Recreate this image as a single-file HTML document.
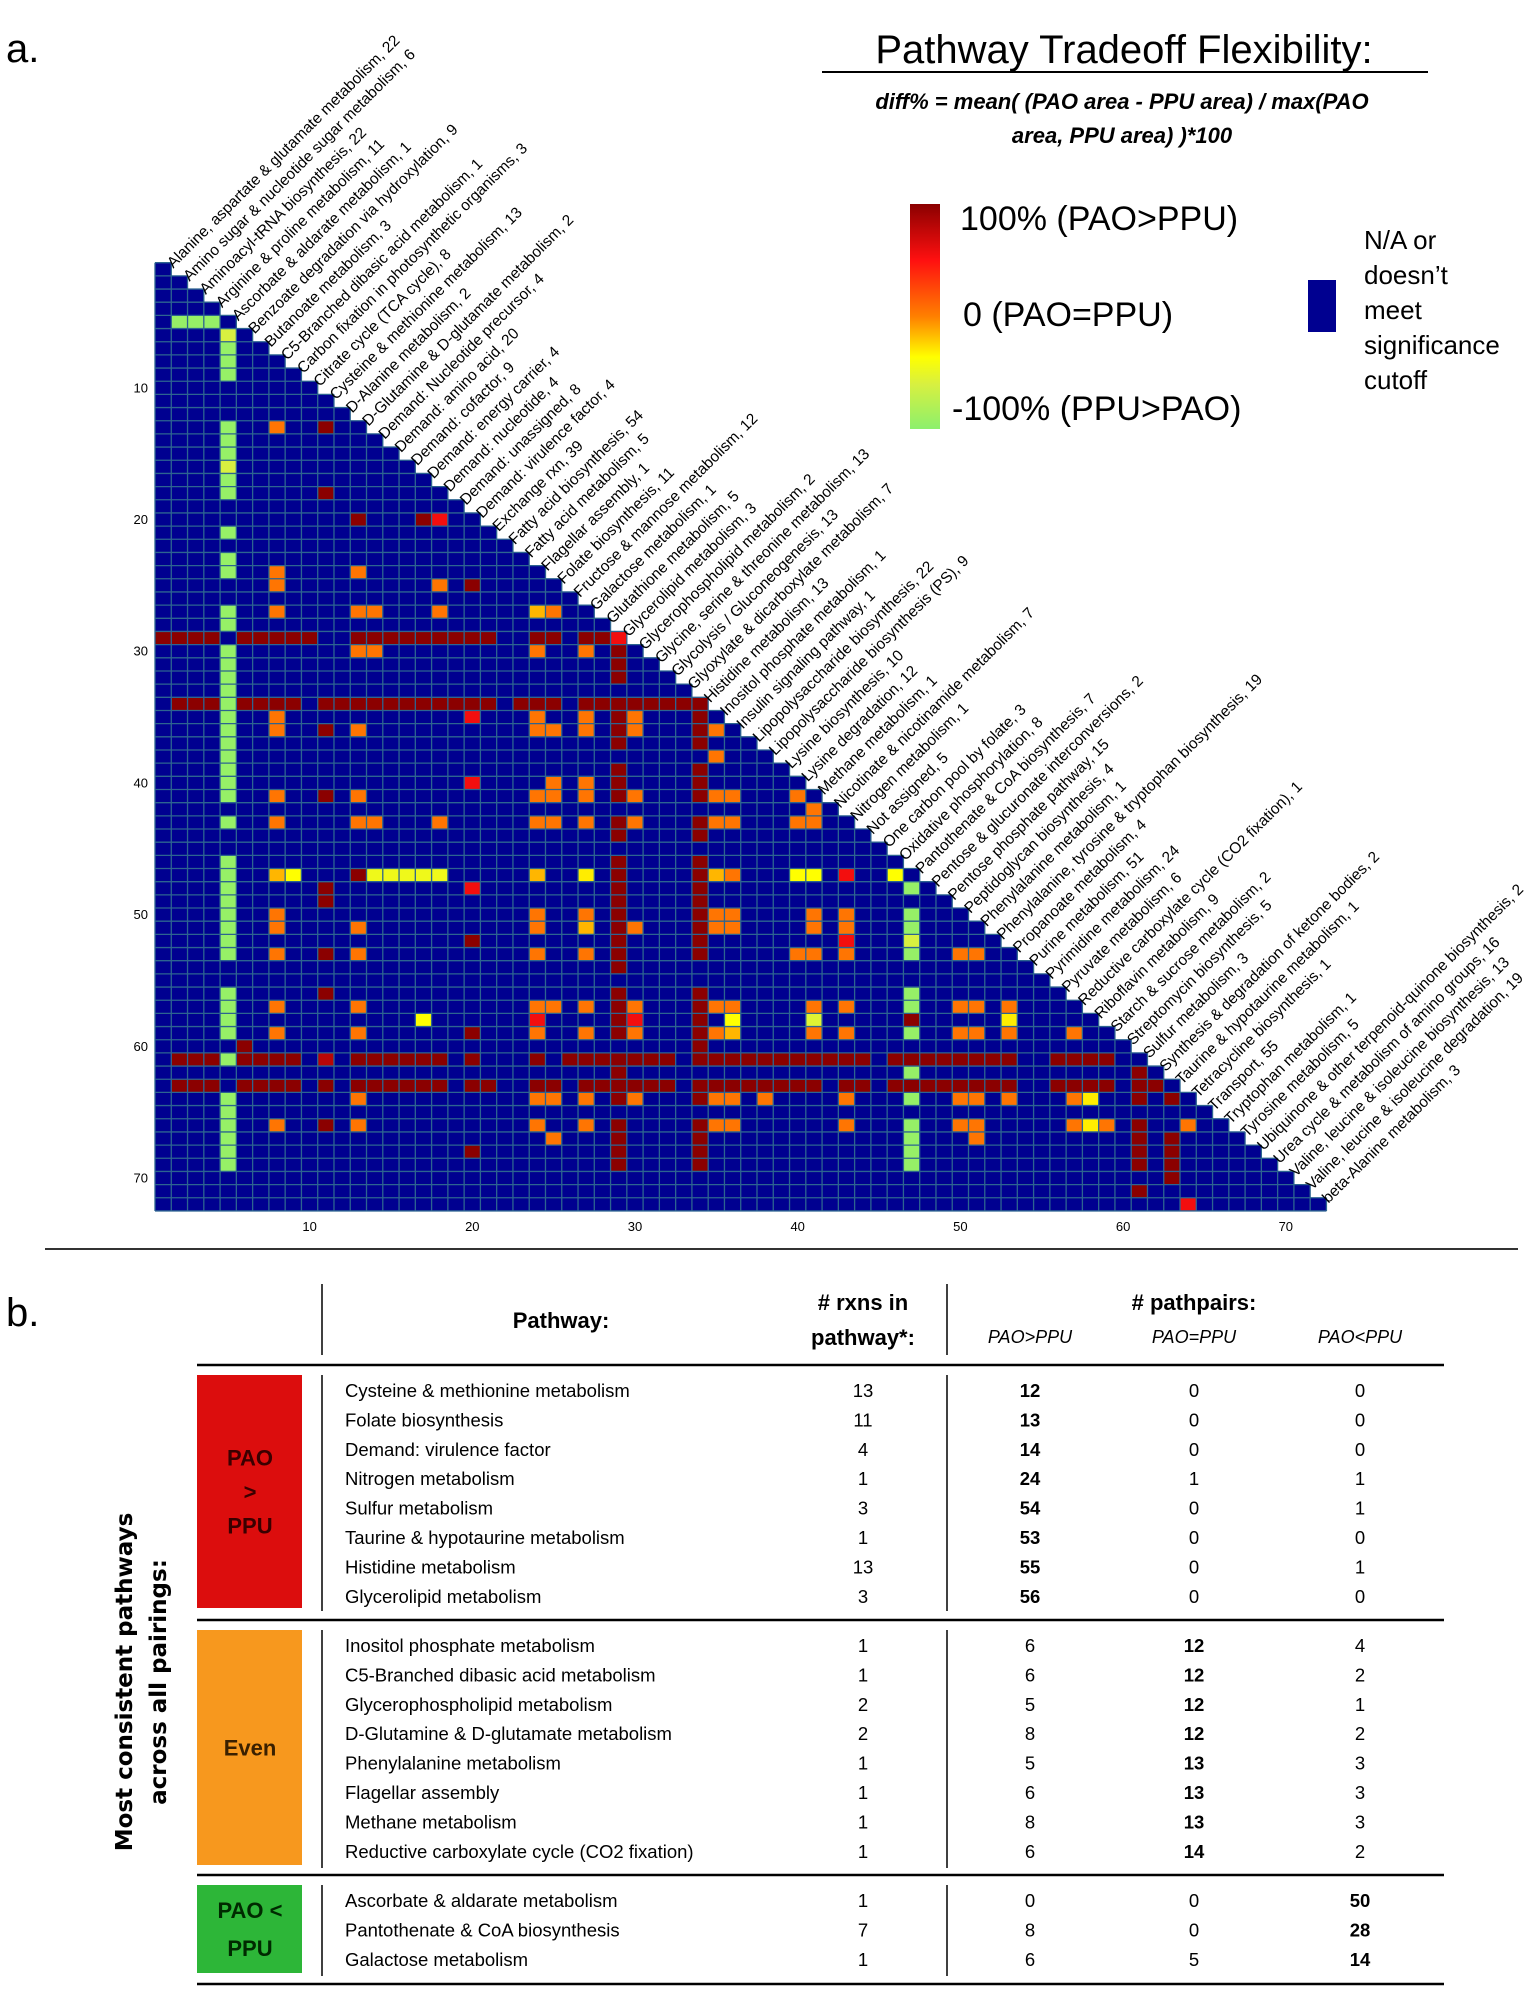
<!DOCTYPE html>
<html><head><meta charset="utf-8"><style>
html,body{margin:0;padding:0;background:#fff;}
svg{display:block;font-family:"Liberation Sans",Arial,sans-serif;}
</style></head><body>
<svg id="fig" width="1526" height="2000" viewBox="0 0 1526 2000" xmlns="http://www.w3.org/2000/svg">
<defs>
<linearGradient id="cbar" x1="0" y1="0" x2="0" y2="1">
<stop offset="0" stop-color="#8b0000"/><stop offset="0.25" stop-color="#ff1010"/><stop offset="0.5" stop-color="#ff8000"/><stop offset="0.68" stop-color="#ffff00"/><stop offset="0.8" stop-color="#d8f040"/><stop offset="1" stop-color="#8cf06c"/>
</linearGradient>
</defs>
<text x="6" y="62" font-size="40">a.</text>
<text x="1124" y="63" font-size="40" text-anchor="middle">Pathway Tradeoff Flexibility:</text>
<line x1="822" y1="72" x2="1428" y2="72" stroke="#000" stroke-width="2"/>
<text x="1122" y="109" font-size="22" font-weight="bold" font-style="italic" text-anchor="middle">diff% =  mean( (PAO area - PPU area) / max(PAO</text>
<text x="1122" y="143" font-size="22" font-weight="bold" font-style="italic" text-anchor="middle">area, PPU area) )*100</text>
<rect x="910" y="204" width="30" height="225" fill="url(#cbar)"/>
<text x="960" y="230" font-size="34">100% (PAO&gt;PPU)</text>
<text x="963" y="326" font-size="34">0 (PAO=PPU)</text>
<text x="952" y="420" font-size="34">-100% (PPU&gt;PAO)</text>
<rect x="1308" y="280" width="28" height="52" fill="#000090"/>
<g font-size="26">
<text x="1364" y="249">N/A or</text><text x="1364" y="284">doesn’t</text><text x="1364" y="319">meet</text><text x="1364" y="354">significance</text><text x="1364" y="389">cutoff</text>
</g>
<g id="heat"></g>
<line x1="45" y1="1249" x2="1518" y2="1249" stroke="#333" stroke-width="2"/>
<g id="table"></g>
</svg>
<script>
// heatmap data
const pathwayLabels = ["Alanine, aspartate & glutamate metabolism, 22","Amino sugar & nucleotide sugar metabolism, 6","Aminoacyl-tRNA biosynthesis, 22","Arginine & proline metabolism, 11","Ascorbate & aldarate metabolism, 1","Benzoate degradation via hydroxylation, 9","Butanoate metabolism, 3","C5-Branched dibasic acid metabolism, 1","Carbon fixation in photosynthetic organisms, 3","Citrate cycle (TCA cycle), 8","Cysteine & methionine metabolism, 13","D-Alanine metabolism, 2","D-Glutamine & D-glutamate metabolism, 2","Demand: Nucleotide precursor, 4","Demand: amino acid, 20","Demand: cofactor, 9","Demand: energy carrier, 4","Demand: nucleotide, 4","Demand: unassigned, 8","Demand: virulence factor, 4","Exchange rxn, 39","Fatty acid biosynthesis, 54","Fatty acid metabolism, 5","Flagellar assembly, 1","Folate biosynthesis, 11","Fructose & mannose metabolism, 12","Galactose metabolism, 1","Glutathione metabolism, 5","Glycerolipid metabolism, 3","Glycerophospholipid metabolism, 2","Glycine, serine & threonine metabolism, 13","Glycolysis / Gluconeogenesis, 13","Glyoxylate & dicarboxylate metabolism, 7","Histidine metabolism, 13","Inositol phosphate metabolism, 1","Insulin signaling pathway, 1","Lipopolysaccharide biosynthesis, 22","Lipopolysaccharide biosynthesis (PS), 9","Lysine biosynthesis, 10","Lysine degradation, 12","Methane metabolism, 1","Nicotinate & nicotinamide metabolism, 7","Nitrogen metabolism, 1","Not assigned, 5","One carbon pool by folate, 3","Oxidative phosphorylation, 8","Pantothenate & CoA biosynthesis, 7","Pentose & glucuronate interconversions, 2","Pentose phosphate pathway, 15","Peptidoglycan biosynthesis, 4","Phenylalanine metabolism, 1","Phenylalanine, tyrosine & tryptophan biosynthesis, 19","Propanoate metabolism, 4","Purine metabolism, 51","Pyrimidine metabolism, 24","Pyruvate metabolism, 6","Reductive carboxylate cycle (CO2 fixation), 1","Riboflavin metabolism, 9","Starch & sucrose metabolism, 2","Streptomycin biosynthesis, 5","Sulfur metabolism, 3","Synthesis & degradation of ketone bodies, 2","Taurine & hypotaurine metabolism, 1","Tetracycline biosynthesis, 1","Transport, 55","Tryptophan metabolism, 1","Tyrosine metabolism, 5","Ubiquinone & other terpenoid-quinone biosynthesis, 2","Urea cycle & metabolism of amino groups, 16","Valine, leucine & isoleucine biosynthesis, 13","Valine, leucine & isoleucine degradation, 19","beta-Alanine metabolism, 3"];
const axisTicks = [10,20,30,40,50,60,70];
// spans: [rowStart,rowEnd,colStart,colEnd,diff%]
const spanCells = [
[5,5,2,4,-95],
[6,6,5,5,-60],[7,9,5,5,-95],[13,15,5,5,-95],[16,16,5,5,-60],[17,18,5,5,-95],[21,21,5,5,-95],[23,24,5,5,-95],[27,28,5,5,-95],[30,41,5,5,-95],[43,43,5,5,-95],[46,53,5,5,-95],[56,59,5,5,-95],[61,61,5,5,-95],[64,69,5,5,-95],
[29,29,29,29,55],[30,32,29,29,100],[34,37,29,29,100],[39,41,29,29,100],[43,44,29,29,100],[46,54,29,29,100],[56,59,29,29,100],[61,64,29,29,100],[66,69,29,29,100],
[34,37,34,34,100],[39,41,34,34,100],[43,44,34,34,100],[46,53,34,34,100],[56,61,34,34,100],[63,64,34,34,100],[66,69,34,34,100],
[48,48,47,47,-95],[50,51,47,47,-95],[52,52,47,47,-60],[53,53,47,47,-95],[56,57,47,47,-95],[58,58,47,47,100],[59,59,47,47,-95],[62,62,47,47,-95],[64,64,47,47,-95],[66,69,47,47,-95],
[62,64,61,61,100],[66,69,61,61,100],[71,71,61,61,100],
[64,64,63,63,100],[67,70,63,63,100],
[29,29,1,4,100],[29,29,6,10,100],[29,29,13,21,100],[29,29,24,25,100],[29,29,27,28,100],
[34,34,2,4,100],[34,34,6,9,100],[34,34,11,21,100],[34,34,23,25,100],[34,34,27,33,100],
[60,60,6,6,100],
[61,61,2,4,100],[61,61,6,9,100],[61,61,11,11,80],[61,61,13,18,100],[61,61,20,20,100],[61,61,24,24,100],[61,61,26,32,100],[61,61,35,44,100],[61,61,46,53,100],[61,61,56,59,100],
[63,63,2,4,100],[63,63,6,9,100],[63,63,11,11,100],[63,63,13,18,100],[63,63,20,21,100],[63,63,24,25,100],[63,63,27,28,100],[63,63,30,32,100],[63,63,35,41,100],[63,63,43,44,100],[63,63,46,53,100],[63,63,56,59,100],[63,63,62,62,100]
];
// singles: [row,col,diff%]
const singleCells = [
[13,8,5],[13,11,100],[18,11,100],[20,13,100],[20,17,100],[20,18,55],
[24,8,5],[24,13,5],[25,8,5],[25,18,5],[25,20,100],
[27,8,5],[27,13,5],[27,14,5],[27,18,5],[27,24,-15],[27,25,5],
[30,13,5],[30,14,5],[30,24,5],[30,27,5],
[35,8,5],[35,20,55],[35,24,5],[35,27,5],[35,30,5],
[36,8,5],[36,11,100],[36,13,5],[36,24,5],[36,25,5],[36,27,5],[36,30,5],[36,35,5],
[38,35,5],[40,20,55],[40,25,5],[40,27,5],
[41,8,5],[41,11,100],[41,13,5],[41,24,5],[41,25,5],[41,27,5],[41,30,5],[41,35,5],[41,36,5],[41,40,5],
[42,41,5],
[43,8,5],[43,13,5],[43,14,5],[43,18,5],[43,24,5],[43,25,5],[43,27,5],[43,30,5],[43,35,5],[43,36,5],[43,40,5],[43,41,5],
[47,8,-15],[47,9,-35],[47,13,100],[47,14,-45],[47,15,-45],[47,16,-45],[47,17,-45],[47,18,-45],[47,24,-15],[47,27,-30],[47,35,-15],[47,36,5],[47,40,-35],[47,41,-35],[47,43,55],[47,46,-35],
[48,11,100],[48,20,55],[49,11,100],
[50,8,5],[50,24,5],[50,27,5],[50,35,5],[50,36,5],[50,41,5],[50,43,5],
[51,8,5],[51,13,5],[51,24,5],[51,27,-15],[51,30,5],[51,35,5],[51,36,5],[51,41,5],[51,43,5],
[52,20,100],[52,43,55],
[53,8,5],[53,11,100],[53,13,5],[53,24,5],[53,27,5],[53,40,5],[53,41,5],[53,43,5],[53,50,5],[53,51,5],
[56,11,100],
[57,8,5],[57,13,5],[57,24,5],[57,25,5],[57,27,5],[57,30,5],[57,35,5],[57,36,5],[57,41,5],[57,43,5],[57,50,5],[57,51,5],[57,53,5],
[58,17,-35],[58,24,55],[58,30,55],[58,36,-35],[58,41,-55],[58,53,-30],
[59,8,5],[59,13,5],[59,20,100],[59,24,5],[59,27,5],[59,30,5],[59,35,5],[59,36,-15],[59,41,5],[59,43,5],[59,50,5],[59,51,5],[59,53,5],[59,57,5],
[64,13,5],[64,24,5],[64,25,5],[64,27,5],[64,30,5],[64,35,5],[64,36,5],[64,38,5],[64,43,5],[64,50,5],[64,51,5],[64,53,5],[64,57,5],[64,58,-30],
[66,8,5],[66,11,100],[66,13,5],[66,24,5],[66,27,5],[66,35,5],[66,36,5],[66,43,5],[66,50,5],[66,51,5],[66,57,5],[66,58,-30],[66,59,5],[66,64,5],
[67,25,5],[67,51,5],[68,20,100],[72,64,55]
];
const colorStops = [-100,-60,-35,0,50,100];
const colorHex = ["#8cf06c","#d8f040","#ffff00","#ff8000","#ff1010","#8b0000"];

const NS="http://www.w3.org/2000/svg";
const N=pathwayLabels.length, L0=155, T0=262.7, CW=16.27, RH=13.17;
const xOf=c=>L0+(c-1)*CW, yOf=r=>T0+(r-1)*RH;
function hex(h){return [1,3,5].map(i=>parseInt(h.substr(i,2),16));}
function colorOf(v){
  v=Math.max(-100,Math.min(100,v));
  for(let i=0;i<colorStops.length-1;i++){
    if(v<=colorStops[i+1]){const t=(v-colorStops[i])/(colorStops[i+1]-colorStops[i]);
      const a=hex(colorHex[i]),b=hex(colorHex[i+1]);
      return "rgb("+a.map((x,k)=>Math.round(x+(b[k]-x)*t)).join(",")+")";}
  }
  return colorHex[colorHex.length-1];
}
function mk(tag,attrs,parent){const e=document.createElementNS(NS,tag);for(const k in attrs)e.setAttribute(k,attrs[k]);parent.appendChild(e);return e;}
const heat=document.getElementById('heat');
let pts=[[L0,T0]];
for(let k=1;k<=N;k++){pts.push([L0+k*CW,T0+(k-1)*RH]);pts.push([L0+k*CW,T0+k*RH]);}
pts.push([L0,T0+N*RH]);
const bg=mk('polygon',{points:pts.map(p=>p.join(',')).join(' '),fill:'#000090'},heat);


function cell(r,c,v){
  const e=mk('rect',{x:xOf(c).toFixed(2),y:yOf(r).toFixed(2),width:CW.toFixed(2),height:RH.toFixed(2),fill:colorOf(v)},heat);
  
  
}
spanCells.forEach(s=>{for(let r=s[0];r<=s[1];r++)for(let c=s[2];c<=s[3];c++)if(c<=r)cell(r,c,s[4]);});
singleCells.forEach(s=>{if(s[1]<=s[0])cell(s[0],s[1],s[2]);});
let d="";
for(let k=0;k<=N;k++){const y=T0+k*RH;const xe=L0+Math.min(N,k+1)*CW;d+="M"+L0+" "+y.toFixed(2)+"H"+xe.toFixed(2);}
for(let k=0;k<=N;k++){const x=L0+k*CW;const ys=T0+Math.max(0,k-1)*RH;d+="M"+x.toFixed(2)+" "+ys.toFixed(2)+"V"+(T0+N*RH).toFixed(2);}
const grid=mk('path',{d:d,stroke:'#2d6490',"stroke-width":1.3,fill:'none'},heat);


axisTicks.forEach(t=>{
  const xl=mk('text',{x:(xOf(t)+CW/2).toFixed(1),y:(T0+N*RH+20).toFixed(1),"font-size":13,"text-anchor":"middle"},heat);
  xl.textContent=t;
  
  
  const yl=mk('text',{x:148,y:(yOf(t)+RH/2+4.5).toFixed(1),"font-size":13,"text-anchor":"end"},heat);
  yl.textContent=t;
  
  
});
pathwayLabels.forEach((lab,i)=>{
  const c=i+1, x=L0+c*CW+2, y=T0+(c-1)*RH+6;
  const t=mk('text',{x:0,y:0,transform:"translate("+x.toFixed(1)+","+y.toFixed(1)+") rotate(-45)","font-size":15.5,"font-family":"'Liberation Sans Narrow','Liberation Sans',sans-serif"},heat);
  t.textContent=lab;
  
  
});

const tbl=document.getElementById('table');
function txt(x,y,s,attrs){const t=mk('text',Object.assign({x:x,y:y},attrs||{}),tbl);t.textContent=s;return t;}
let e;
e=txt(6,1326,"b.",{"font-size":40});
e=txt(561,1328,"Pathway:",{"font-size":22,"font-weight":"bold","text-anchor":"middle"});
e=txt(863,1310,"# rxns in",{"font-size":22,"font-weight":"bold","text-anchor":"middle"});
e=txt(863,1345,"pathway*:",{"font-size":22,"font-weight":"bold","text-anchor":"middle"});
e=txt(1194,1310,"# pathpairs:",{"font-size":22,"font-weight":"bold","text-anchor":"middle"});
[["PAO>PPU",1030],["PAO=PPU",1194],["PAO<PPU",1360]].forEach(h=>{e=txt(h[1],1343,h[0],{"font-size":18,"font-style":"italic","text-anchor":"middle"});});
function ln(x1,y1,x2,y2,w){const l=mk('line',{x1:x1,y1:y1,x2:x2,y2:y2,stroke:'#000',"stroke-width":w},tbl);}
ln(322,1284,322,1355,1.5);ln(947,1284,947,1355,1.5);
ln(197,1365,1444,1365,2.5);ln(197,1620,1444,1620,2.5);ln(197,1875,1444,1875,2.5);ln(197,1984,1444,1984,2.5);
const sections=[
 {y0:1375,y1:1608,color:"#dc0d0d",label:["PAO",">","PPU"],tc:"#3a0000",bold:0,rows:[
  ["Cysteine & methionine metabolism",13,12,0,0],["Folate biosynthesis",11,13,0,0],["Demand: virulence factor",4,14,0,0],["Nitrogen metabolism",1,24,1,1],["Sulfur metabolism",3,54,0,1],["Taurine & hypotaurine metabolism",1,53,0,0],["Histidine metabolism",13,55,0,1],["Glycerolipid metabolism",3,56,0,0]]},
 {y0:1630,y1:1865,color:"#f7981e",label:["Even"],tc:"#3a2000",bold:1,rows:[
  ["Inositol phosphate metabolism",1,6,12,4],["C5-Branched dibasic acid metabolism",1,6,12,2],["Glycerophospholipid metabolism",2,5,12,1],["D-Glutamine & D-glutamate metabolism",2,8,12,2],["Phenylalanine metabolism",1,5,13,3],["Flagellar assembly",1,6,13,3],["Methane metabolism",1,8,13,3],["Reductive carboxylate cycle (CO2 fixation)",1,6,14,2]]},
 {y0:1885,y1:1973,color:"#2db638",label:["PAO <","PPU"],tc:"#002a00",bold:2,rows:[
  ["Ascorbate & aldarate metabolism",1,0,0,50],["Pantothenate & CoA biosynthesis",7,8,0,28],["Galactose metabolism",1,6,5,14]]}
];
sections.forEach(s=>{
  const b=mk('rect',{x:197,y:s.y0,width:105,height:s.y1-s.y0,fill:s.color},tbl);
  
  
  ln(322,s.y0,322,s.y1+3,1.5);ln(947,s.y0,947,s.y1+3,1.5);
  const mid=(s.y0+s.y1)/2, n=s.label.length, sp=n===3?34:38;
  s.label.forEach((t,i)=>{const el=txt(250,mid+(i-(n-1)/2)*sp+8,t,{"font-size":22,"font-weight":"bold","text-anchor":"middle",fill:s.tc});});
  s.rows.forEach((r,i)=>{
    const y=s.y0+22+i*29.4;
    let el=txt(345,y,r[0],{"font-size":18.5});
    el=txt(863,y,String(r[1]),{"font-size":18.5,"text-anchor":"middle"});
    [1030,1194,1360].forEach((x,k)=>{el=txt(x,y,String(r[2+k]),{"font-size":18.5,"text-anchor":"middle","font-weight":k===s.bold?"bold":"normal"});});
  });
});
e=txt(0,0,"Most consistent pathways",{"font-size":23,"font-weight":"bold","font-family":"'DejaVu Sans',sans-serif","text-anchor":"middle",transform:"translate(132,1682) rotate(-90)"});
e=txt(0,0,"across all pairings:",{"font-size":23,"font-weight":"bold","font-family":"'DejaVu Sans',sans-serif","text-anchor":"middle",transform:"translate(166,1682) rotate(-90)"});
</script>
</body></html>
